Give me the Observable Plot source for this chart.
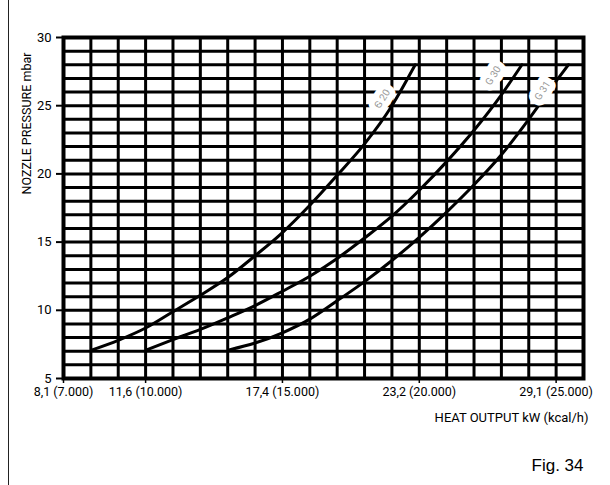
<!DOCTYPE html>
<html>
<head>
<meta charset="utf-8">
<script src="https://cdn.jsdelivr.net/npm/d3@7"></script>
<script src="https://cdn.jsdelivr.net/npm/@observablehq/plot@0.6"></script>
<style>
  html, body { margin: 0; padding: 0; background: #fff; }
  #wrap { position: relative; width: 610px; height: 485px; overflow: hidden; }
  #border { position: absolute; left: 8px; top: 0; width: 0; height: 485px; border-left: 1.5px solid #222; }
  svg { font-family: Roboto, "Liberation Sans", sans-serif; }
</style>
</head>
<body>
<div id="wrap"><div id="border"></div></div>
<script>
// ---- data ----
const kcalTicks = [7000, 10000, 15000, 20000, 25000];
const kwLabels = ["8,1", "11,6", "17,4", "23,2", "29,1"];
const kcalLabels = ["7.000", "10.000", "15.000", "20.000", "25.000"];
const pressureTicks = [5, 10, 15, 20, 25, 30];
const gridKcal = d3.range(7000, 26001, 1000);
const gridMbar = d3.range(5, 31, 1);

const curveA_kcal = [8050, 9000, 10000, 11000, 12000, 13000, 14000, 15000, 16000, 17000, 18000, 19000, 19850];
const curveA_mbar = [7.1, 7.8, 8.7, 9.9, 11.1, 12.4, 14.0, 15.7, 17.7, 19.9, 22.2, 25.0, 28.0];
const curveB_kcal = [10050, 11000, 12000, 13000, 14000, 15000, 16000, 17000, 18000, 19000, 20000, 21000, 22000, 23000, 23750];
const curveB_mbar = [7.1, 7.85, 8.6, 9.45, 10.35, 11.4, 12.5, 13.8, 15.3, 16.9, 18.8, 20.9, 23.2, 25.8, 28.0];
const curveC_kcal = [13050, 14000, 15000, 16000, 17000, 18000, 19000, 20000, 21000, 22000, 23000, 24000, 25000, 25450];
const curveC_mbar = [7.1, 7.6, 8.35, 9.35, 10.7, 12.1, 13.65, 15.35, 17.2, 19.2, 21.4, 24.0, 26.8, 28.0];

const curveNames = ["G 20", "G 30", "G 31"];
const labelKcal = [18650, 22700, 24500];
const labelMbar = [25.5, 27.2, 26.1];

const yTitle = "NOZZLE PRESSURE mbar";
const xTitle = "HEAT OUTPUT kW (kcal/h)";
const figTitle = "Fig. 34";

// ---- build tables ----
const curves = [
  {name: curveNames[0], k: curveA_kcal, m: curveA_mbar},
  {name: curveNames[1], k: curveB_kcal, m: curveB_mbar},
  {name: curveNames[2], k: curveC_kcal, m: curveC_mbar}
];
const lineData = curves.flatMap(c => c.k.map((k, i) => ({series: c.name, kcal: k, mbar: c.m[i]})));
const labelData = curveNames.map((n, i) => ({name: n, kcal: labelKcal[i], mbar: labelMbar[i]}));
const xLab = new Map(kcalTicks.map((t, i) => [t, `${kwLabels[i]} (${kcalLabels[i]})`]));

const chart = Plot.plot({
  width: 610,
  height: 485,
  marginLeft: 63,
  marginRight: 27,
  marginTop: 37,
  marginBottom: 107,
  style: {background: "transparent", color: "#000"},
  x: {domain: [7000, 26000]},
  y: {domain: [5, 30]},
  marks: [
    Plot.ruleY(gridMbar, {stroke: "#000", strokeWidth: 3}),
    Plot.ruleX(gridKcal, {stroke: "#000", strokeWidth: 3}),
    Plot.frame({stroke: "#000", strokeWidth: 4}),
    Plot.line(lineData, {x: "kcal", y: "mbar", z: "series", curve: "monotone-x", stroke: "#000", strokeWidth: 3}),
    Plot.text(labelData, {x: "kcal", y: "mbar", text: "name", rotate: -58, fontSize: 10, fill: "#999", stroke: "#fff", strokeWidth: 12, letterSpacing: 4}),
    Plot.axisY({ticks: pressureTicks, label: null, tickSize: 7, tickPadding: 5, fontSize: 13, strokeWidth: 2, letterSpacing: -0.6}),
    Plot.axisX({ticks: kcalTicks, label: null, tickSize: 5, tickPadding: 4, fontSize: 12.5, strokeWidth: 1.5, letterSpacing: -0.6, tickFormat: d => xLab.get(d)}),
    Plot.text([yTitle], {frameAnchor: "top-left", text: d => d, rotate: -90, dx: -41, dy: 86, fontSize: 12.5, letterSpacing: -0.4, textAnchor: "middle"}),
    Plot.text([xTitle], {frameAnchor: "bottom-right", text: d => d, dx: 5, dy: 43, fontSize: 13, letterSpacing: -0.4, textAnchor: "end"}),
    Plot.text([figTitle], {frameAnchor: "bottom-right", text: d => d, dx: 0, dy: 92, fontSize: 17, textAnchor: "end", fontFamily: "Liberation Sans, Arial, sans-serif"})
  ]
});
chart.style.position = "absolute";
chart.style.left = "0px";
chart.style.top = "0px";
document.getElementById("wrap").appendChild(chart);
</script>
</body>
</html>
